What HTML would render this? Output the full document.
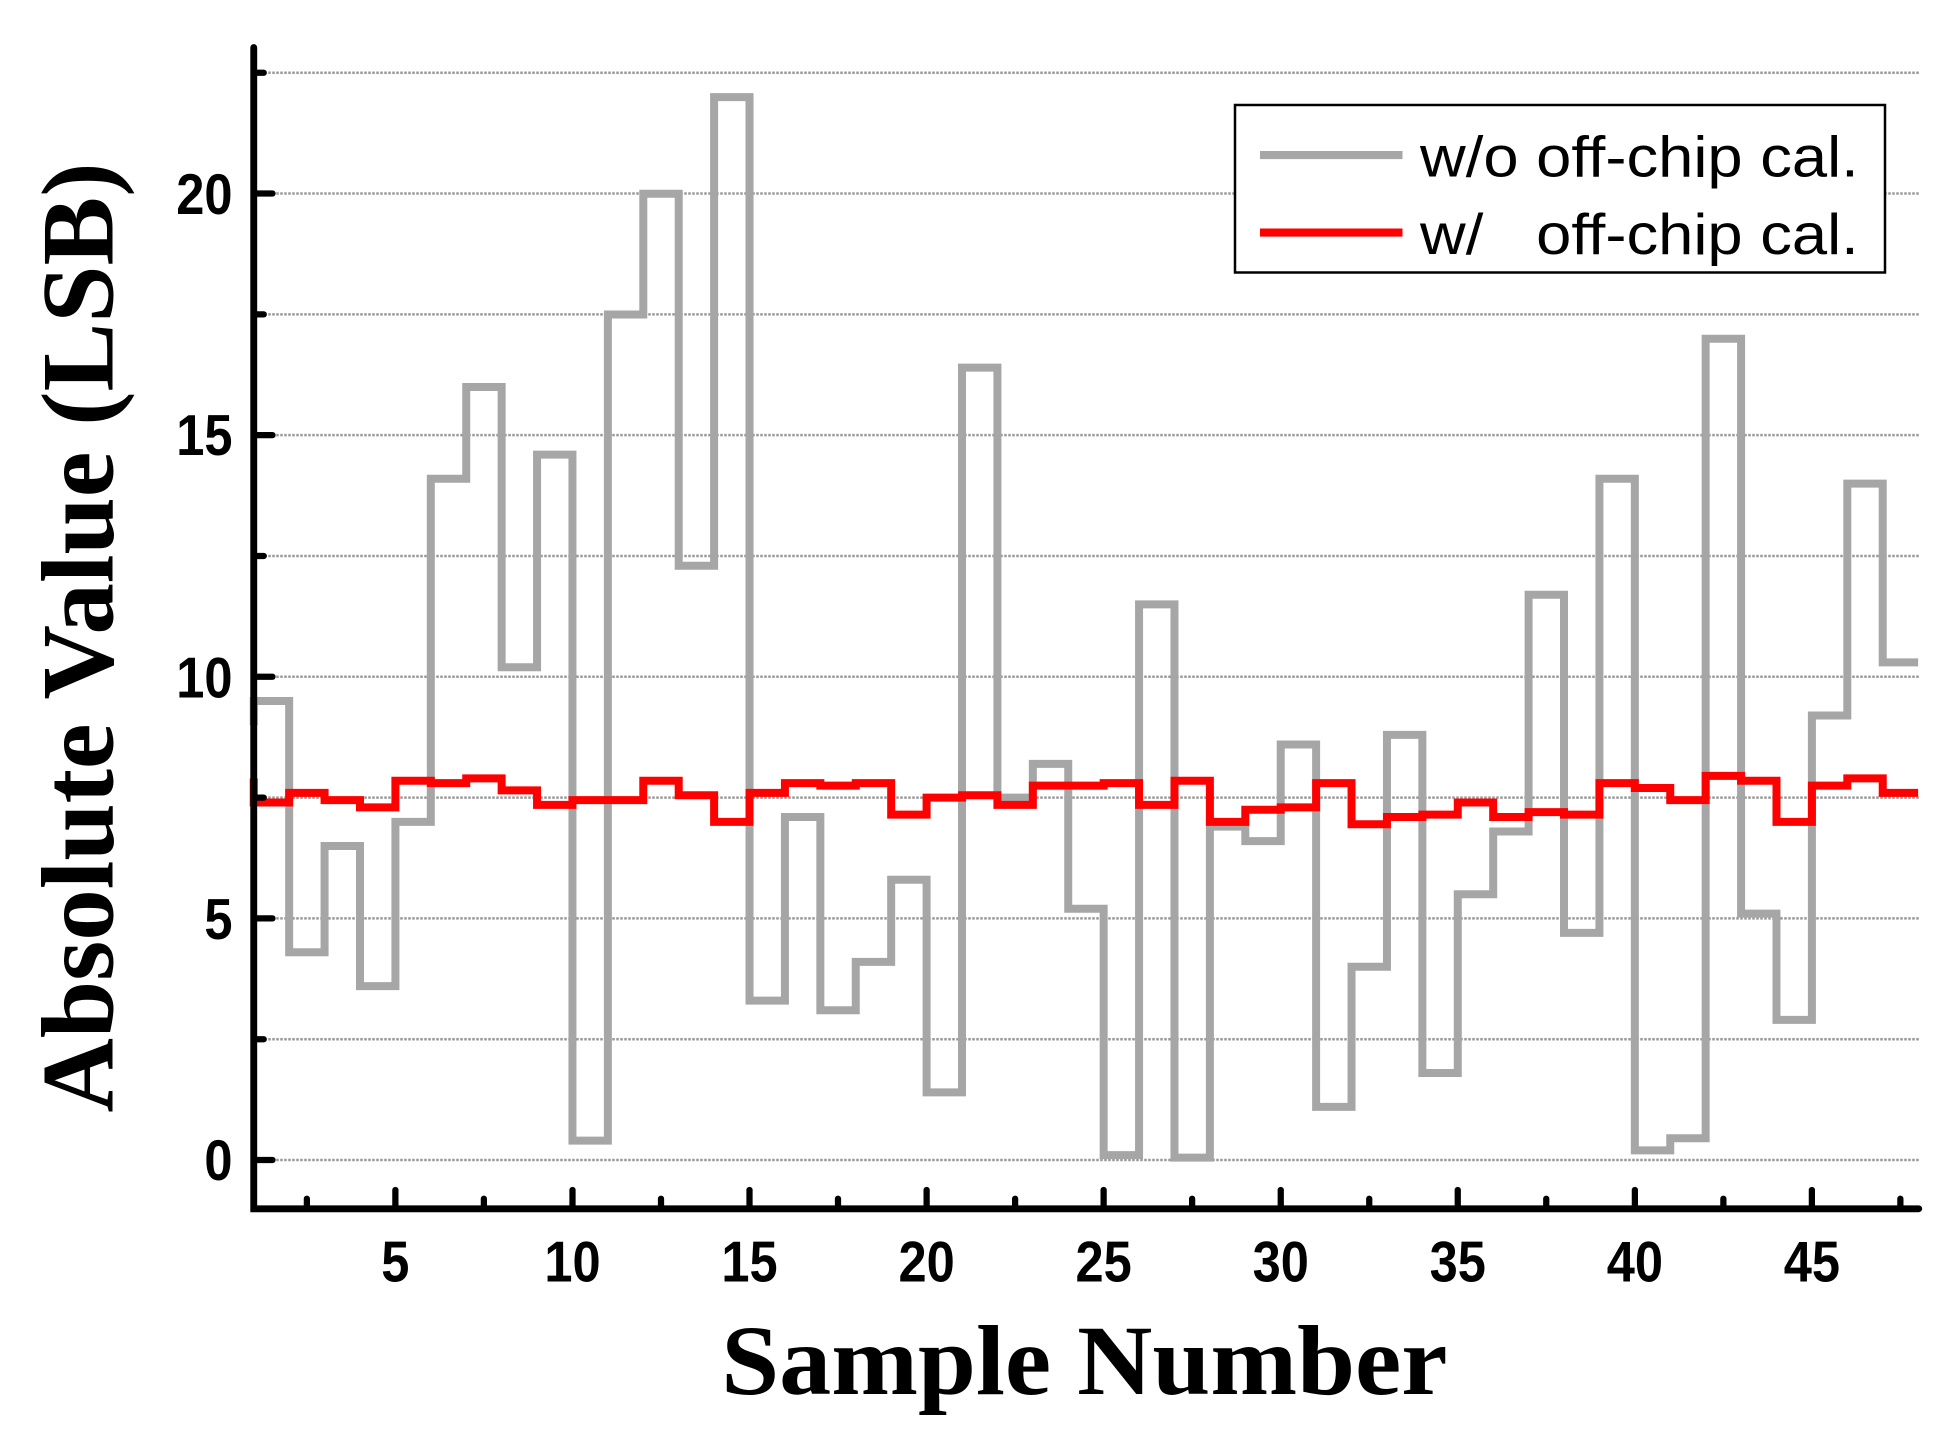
<!DOCTYPE html>
<html><head><style>html,body{margin:0;padding:0;background:#fff}svg{display:block}</style></head>
<body>
<svg width="1952" height="1433" viewBox="0 0 1561.6 1146.4" preserveAspectRatio="none" xmlns="http://www.w3.org/2000/svg">
<rect width="1561.6" height="1146.4" fill="#fff"/>
<g stroke="#999" stroke-width="2" stroke-dasharray="2,1.2">
<line x1="205" x2="1535" y1="928" y2="928"/>
<line x1="205" x2="1535" y1="831.4" y2="831.4"/>
<line x1="205" x2="1535" y1="734.7" y2="734.7"/>
<line x1="205" x2="1535" y1="638.1" y2="638.1"/>
<line x1="205" x2="1535" y1="541.4" y2="541.4"/>
<line x1="205" x2="1535" y1="444.8" y2="444.8"/>
<line x1="205" x2="1535" y1="348.1" y2="348.1"/>
<line x1="205" x2="1535" y1="251.5" y2="251.5"/>
<line x1="205" x2="1535" y1="154.8" y2="154.8"/>
<line x1="205" x2="1535" y1="58.2" y2="58.2"/>
</g>
<g transform="translate(203,928) scale(28.33,-38.65) translate(-1,0)" fill="none" stroke-linejoin="miter">
<path vector-effect="non-scaling-stroke" stroke="#a6a6a6" stroke-width="8" d="M1 9 V9.5 H2 V4.3 H3 V6.5 H4 V3.6 H5 V7.0 H6 V14.1 H7 V16 H8 V10.2 H9 V14.6 H10 V0.4 H11 V17.5 H12 V20 H13 V12.3 H14 V22 H15 V3.3 H16 V7.1 H17 V3.1 H18 V4.1 H19 V5.8 H20 V1.4 H21 V16.4 H22 V7.5 H23 V8.2 H24 V5.2 H25 V0.1 H26 V11.5 H27 V0.05 H28 V6.9 H29 V6.6 H30 V8.6 H31 V1.1 H32 V4 H33 V8.8 H34 V1.8 H35 V5.5 H36 V6.8 H37 V11.7 H38 V4.7 H39 V14.1 H40 V0.2 H41 V0.45 H42 V17 H43 V5.1 H44 V2.9 H45 V9.2 H46 V14 H47 V10.3 H48"/>
<path vector-effect="non-scaling-stroke" stroke="#ff0000" stroke-width="8" d="M1 7.9 V7.4 H2 V7.6 H3 V7.45 H4 V7.3 H5 V7.85 H6 V7.8 H7 V7.9 H8 V7.65 H9 V7.35 H10 V7.45 H11 V7.45 H12 V7.85 H13 V7.55 H14 V7.0 H15 V7.6 H16 V7.8 H17 V7.75 H18 V7.8 H19 V7.15 H20 V7.5 H21 V7.55 H22 V7.35 H23 V7.75 H24 V7.75 H25 V7.8 H26 V7.35 H27 V7.85 H28 V7.0 H29 V7.25 H30 V7.3 H31 V7.8 H32 V6.95 H33 V7.1 H34 V7.15 H35 V7.4 H36 V7.1 H37 V7.2 H38 V7.15 H39 V7.8 H40 V7.7 H41 V7.45 H42 V7.95 H43 V7.85 H44 V7.0 H45 V7.75 H46 V7.9 H47 V7.6 H48"/>
</g>
<g stroke="#000" stroke-width="5.5" fill="none" stroke-linecap="round">
<polyline points="203,38 203,967 1535,967"/>
</g>
<g stroke="#000" stroke-width="5" stroke-linecap="round">
<line x1="203" x2="218" y1="928" y2="928"/><line x1="203" x2="218" y1="734.7" y2="734.7"/><line x1="203" x2="218" y1="541.4" y2="541.4"/><line x1="203" x2="218" y1="348.1" y2="348.1"/><line x1="203" x2="218" y1="154.8" y2="154.8"/>
<line x1="203" x2="211" y1="831.4" y2="831.4"/><line x1="203" x2="211" y1="638.1" y2="638.1"/><line x1="203" x2="211" y1="444.8" y2="444.8"/><line x1="203" x2="211" y1="251.5" y2="251.5"/><line x1="203" x2="211" y1="58.2" y2="58.2"/>
<line x1="316.3" x2="316.3" y1="967" y2="952"/><line x1="458" x2="458" y1="967" y2="952"/><line x1="599.6" x2="599.6" y1="967" y2="952"/><line x1="741.3" x2="741.3" y1="967" y2="952"/><line x1="882.9" x2="882.9" y1="967" y2="952"/><line x1="1024.6" x2="1024.6" y1="967" y2="952"/><line x1="1166.2" x2="1166.2" y1="967" y2="952"/><line x1="1307.9" x2="1307.9" y1="967" y2="952"/><line x1="1449.5" x2="1449.5" y1="967" y2="952"/>
<line x1="245.5" x2="245.5" y1="967" y2="959"/><line x1="387.1" x2="387.1" y1="967" y2="959"/><line x1="528.8" x2="528.8" y1="967" y2="959"/><line x1="670.4" x2="670.4" y1="967" y2="959"/><line x1="812.1" x2="812.1" y1="967" y2="959"/><line x1="953.7" x2="953.7" y1="967" y2="959"/><line x1="1095.4" x2="1095.4" y1="967" y2="959"/><line x1="1237" x2="1237" y1="967" y2="959"/><line x1="1378.7" x2="1378.7" y1="967" y2="959"/><line x1="1520.3" x2="1520.3" y1="967" y2="959"/>
</g>
<g font-family="Liberation Sans, sans-serif" font-weight="bold" font-size="46" fill="#000">
<g text-anchor="end">
<text transform="translate(186,944) scale(0.88,1)">0</text><text transform="translate(186,751) scale(0.88,1)">5</text><text transform="translate(186,558) scale(0.88,1)">10</text><text transform="translate(186,364) scale(0.88,1)">15</text><text transform="translate(186,171) scale(0.88,1)">20</text>
</g>
<g text-anchor="middle">
<text transform="translate(316.3,1025) scale(0.88,1)">5</text><text transform="translate(458,1025) scale(0.88,1)">10</text><text transform="translate(599.6,1025) scale(0.88,1)">15</text><text transform="translate(741.3,1025) scale(0.88,1)">20</text><text transform="translate(882.9,1025) scale(0.88,1)">25</text><text transform="translate(1024.6,1025) scale(0.88,1)">30</text><text transform="translate(1166.2,1025) scale(0.88,1)">35</text><text transform="translate(1307.9,1025) scale(0.88,1)">40</text><text transform="translate(1449.5,1025) scale(0.88,1)">45</text>
</g>
</g>
<text x="577" y="1115" textLength="581" lengthAdjust="spacingAndGlyphs" font-family="Liberation Serif, serif" font-weight="bold" font-size="80">Sample Number</text>
<text transform="translate(90,890) rotate(-90)" textLength="760" lengthAdjust="spacingAndGlyphs" font-family="Liberation Serif, serif" font-weight="bold" font-size="82">Absolute Value (LSB)</text>
<rect x="988" y="84" width="520" height="134" fill="#fff" stroke="#000" stroke-width="2"/>
<line x1="1008" x2="1122" y1="124" y2="124" stroke="#a6a6a6" stroke-width="6.5"/>
<line x1="1008" x2="1122" y1="186" y2="186" stroke="#ff0000" stroke-width="6.5"/>
<g font-family="Liberation Sans, sans-serif" font-size="46" fill="#000">
<text x="1136" y="141" textLength="351" lengthAdjust="spacingAndGlyphs">w/o off-chip cal.</text>
<text x="1136" y="203" xml:space="preserve" textLength="351" lengthAdjust="spacingAndGlyphs">w/   off-chip cal.</text>
</g>
</svg>
</body></html>
